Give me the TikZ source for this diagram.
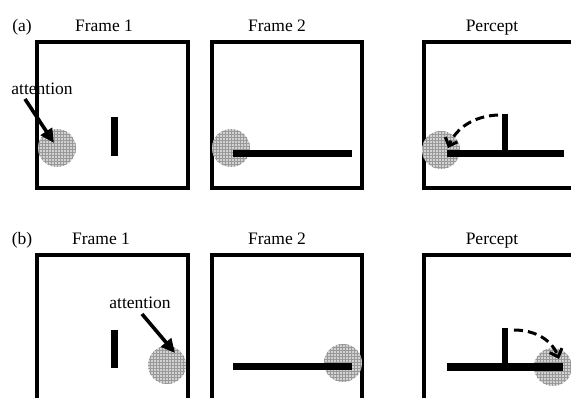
\documentclass[tikz,border=0pt]{standalone}
\usepackage{fontspec}
\setmainfont{Liberation Serif}
\usetikzlibrary{arrows.meta,patterns}
\begin{document}
\begin{tikzpicture}[x=1pt,y=-1pt,
  frame/.style={line width=3.2pt},
  barshape/.style={fill=black},
  blob/.style={circle, minimum size=38pt, inner sep=0pt, fill=gray!35,
    postaction={pattern=grid, pattern color=gray!80}},
  lbl/.style={font=\fontsize{17.5}{20}\selectfont, inner sep=0pt, anchor=base},
  attn/.style={line width=3.6pt, -{Triangle[length=14pt,width=13pt]}},
  arcarrow/.style={line width=3pt, dash pattern=on 9pt off 5pt,
    -{Straight Barb[length=7pt,width=13pt]}}]
\useasboundingbox (0,0) rectangle (571,398);
\begin{scope}
\clip (0,0) rectangle (571,398);
% ---------- row (a) ----------
\node[lbl] (la) at (22,32) {(a)};
\node[lbl] (ta1) at (104,32) {Frame 1};
\node[lbl] (ta2) at (277,32) {Frame 2};
\node[lbl] (ta3) at (492,32) {Percept};
\draw[frame] (37,42) rectangle (188,188);
\draw[frame] (212,42) rectangle (362,188);
\draw[frame] (424,42) rectangle (590,188);
% frame 1
\node[blob] (bA1) at (57,148) {};
\fill[barshape] (111,117) rectangle (118,156);
\node[lbl] (attA) at (42,95) {attention};
\coordinate (attA0) at (25,99);
\coordinate (attA1) at (54,143);
\draw[attn] (attA0) -- (attA1);
% frame 2
\node[blob] (bA2) at (231,148) {};
\fill[barshape] (233,150) rectangle (352,157);
% percept
\node[blob] (bA3) at (441,150) {};
\fill[barshape] (447,150) rectangle (564,157);
\fill[barshape] (502,114) rectangle (508,153);
\coordinate (arcA0) at (498,115);
\coordinate (arcA1) at (448,148);
\draw[arcarrow] (arcA0) .. controls (474,116) and (456,128) .. (arcA1);
% ---------- row (b) ----------
\node[lbl] (lb) at (22,245) {(b)};
\node[lbl] (tb1) at (101,245) {Frame 1};
\node[lbl] (tb2) at (277,245) {Frame 2};
\node[lbl] (tb3) at (492,245) {Percept};
\draw[frame] (37,255) rectangle (188,420);
\draw[frame] (212,255) rectangle (362,420);
\draw[frame] (424,255) rectangle (590,420);
% frame 1
\node[blob] (bB1) at (167,365) {};
\fill[barshape] (111,330) rectangle (118,368);
\node[lbl] (attB) at (140,309) {attention};
\coordinate (attB0) at (142,314);
\coordinate (attB1) at (175,353);
\draw[attn] (attB0) -- (attB1);
% frame 2
\node[blob] (bB2) at (343,363) {};
\fill[barshape] (233,363) rectangle (352,370);
% percept
\node[blob] (bB3) at (553,367) {};
\fill[barshape] (447,363) rectangle (563,371);
\fill[barshape] (502,328) rectangle (508,367);
\coordinate (arcB0) at (514,330);
\coordinate (arcB1) at (559,359);
\draw[arcarrow] (arcB0) .. controls (535,330) and (552,340) .. (arcB1);
\end{scope}
\end{tikzpicture}
\end{document}
